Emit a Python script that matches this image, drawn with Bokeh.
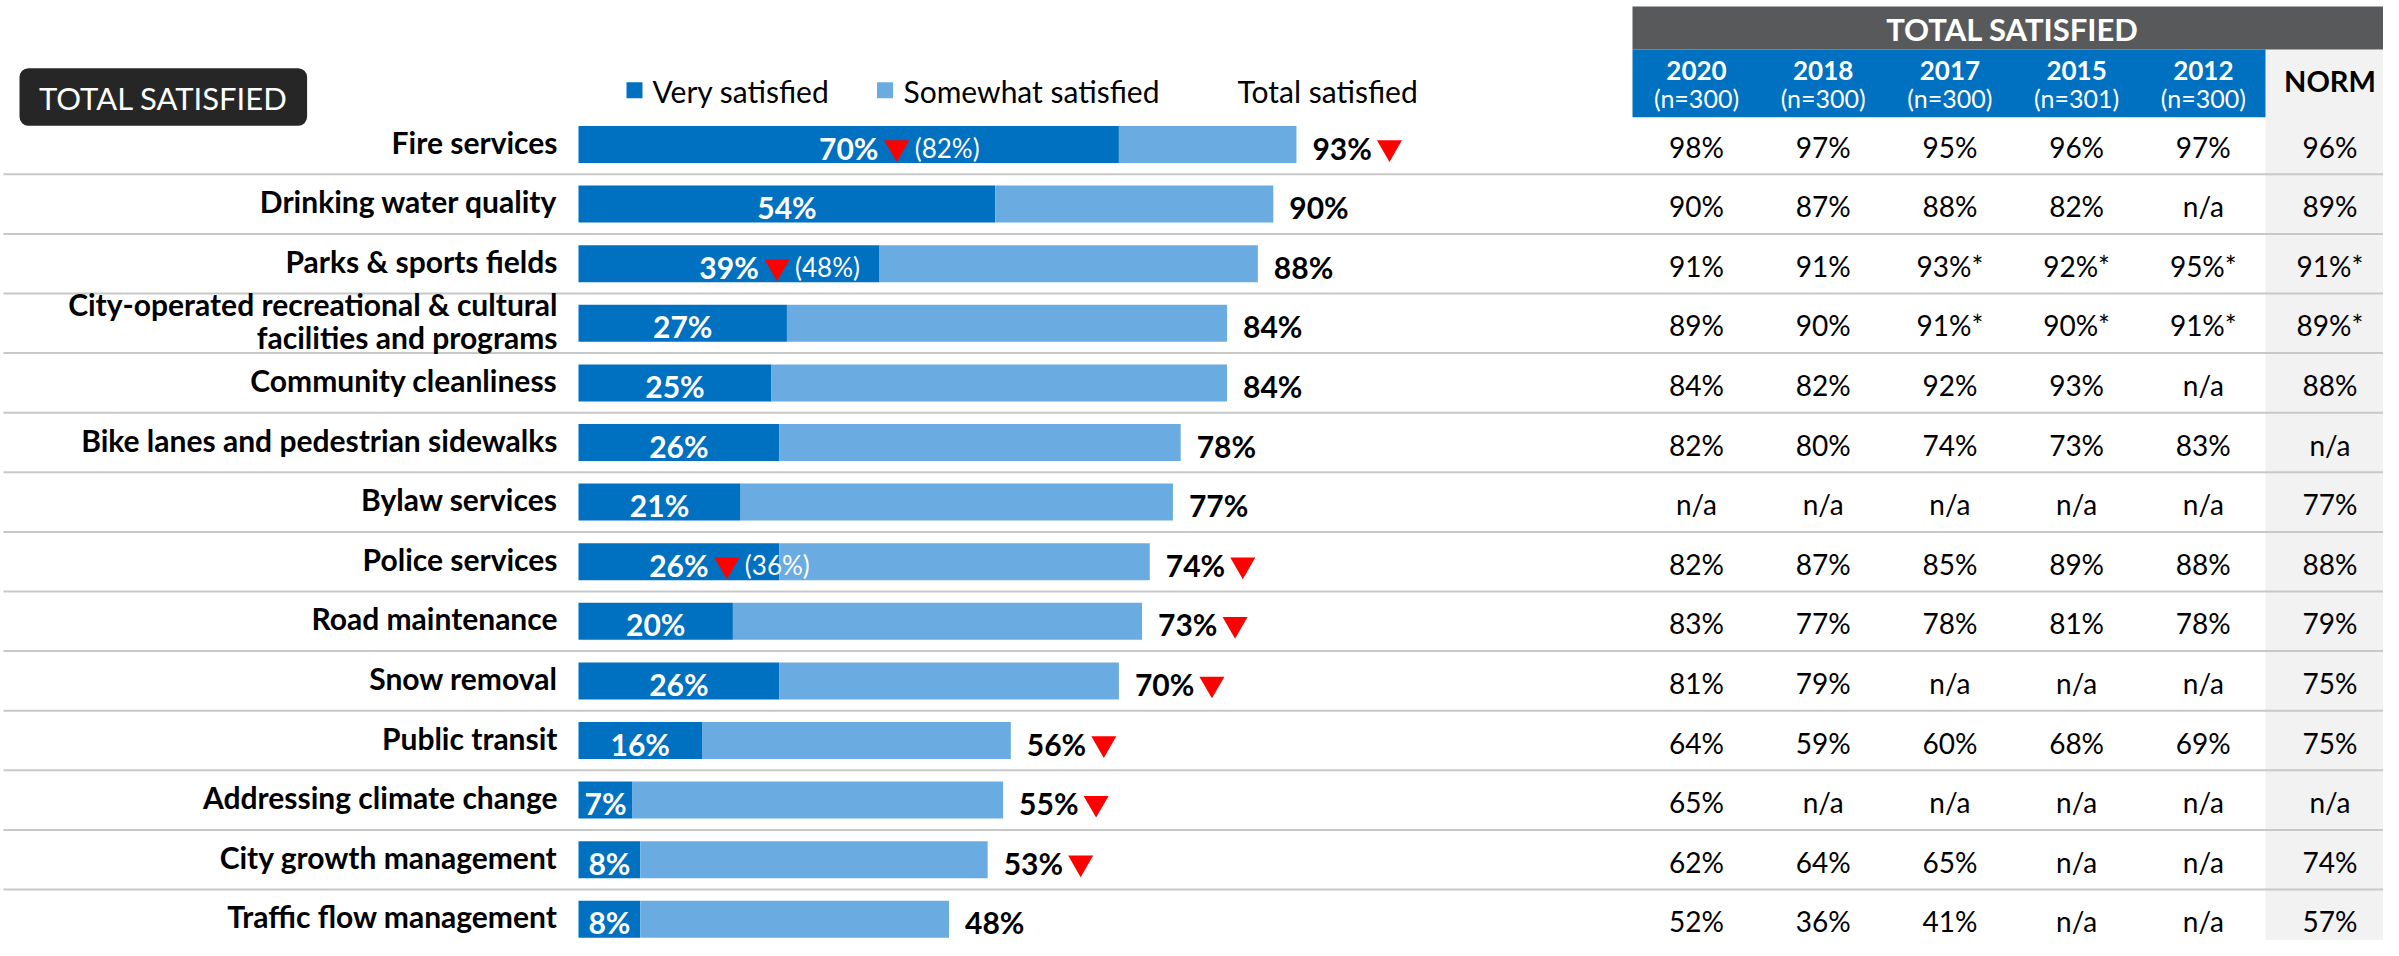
from bokeh.plotting import figure
from bokeh.models import Range1d, ColumnDataSource
from bokeh.core.properties import value
from bokeh.embed import file_html
from bokeh.resources import INLINE

# ---------------- data ----------------
categories = [
    "Fire services",
    "Drinking water quality",
    "Parks & sports fields",
    "City-operated recreational & cultural\nfacilities and programs",
    "Community cleanliness",
    "Bike lanes and pedestrian sidewalks",
    "Bylaw services",
    "Police services",
    "Road maintenance",
    "Snow removal",
    "Public transit",
    "Addressing climate change",
    "City growth management",
    "Traffic flow management",
]
very_satisfied = [70, 54, 39, 27, 25, 26, 21, 26, 20, 26, 16, 7, 8, 8]
total_satisfied = [93, 90, 88, 84, 84, 78, 77, 74, 73, 70, 56, 55, 53, 48]
total_down = [True, False, False, False, False, False, False, True, True, True, True, True, True, False]
very_previous = [82, None, 48, None, None, None, None, 36, None, None, None, None, None, None]

years = ["2020", "2018", "2017", "2015", "2012"]
sample_sizes = ["(n=300)", "(n=300)", "(n=300)", "(n=301)", "(n=300)"]
col_2020 = ["98%", "90%", "91%", "89%", "84%", "82%", "n/a", "82%", "83%", "81%", "64%", "65%", "62%", "52%"]
col_2018 = ["97%", "87%", "91%", "90%", "82%", "80%", "n/a", "87%", "77%", "79%", "59%", "n/a", "64%", "36%"]
col_2017 = ["95%", "88%", "93%*", "91%*", "92%", "74%", "n/a", "85%", "78%", "n/a", "60%", "n/a", "65%", "41%"]
col_2015 = ["96%", "82%", "92%*", "90%*", "93%", "73%", "n/a", "89%", "81%", "n/a", "68%", "n/a", "n/a", "n/a"]
col_2012 = ["97%", "n/a", "95%*", "91%*", "n/a", "83%", "n/a", "88%", "78%", "n/a", "69%", "n/a", "n/a", "n/a"]
col_norm = ["96%", "89%", "91%*", "89%*", "88%", "n/a", "77%", "88%", "79%", "75%", "75%", "n/a", "74%", "57%"]

# ---------------- layout helpers ----------------
W, H = 2383, 940
OX, PPX = 578.0, 7.72     # px of 0 %, px per %
OY, PPY = 144.0, 59.6     # px of first row centre, px per row


def X(px):
    return (px - OX) / PPX


def Y(py):
    return (py - OY) / PPY


FONT = "Lato"
DARK = "#0070C0"
LIGHT = "#6AACE2"
RED = "#FF0000"

n = len(categories)
idx = list(range(n))
somewhat = [t - v for t, v in zip(total_satisfied, very_satisfied)]

p = figure(width=W, height=H, x_range=Range1d(X(0), X(W)), y_range=Range1d(Y(H), Y(0)),
           output_backend="svg", toolbar_location=None, min_border=0,
           x_axis_location=None, y_axis_location=None)
p.grid.visible = False
p.outline_line_color = None
p.background_fill_color = "white"
p.border_fill_color = "white"

# ---------------- table backgrounds ----------------
p.quad(left=[X(2265)], right=[X(2392)], top=[Y(49)], bottom=[Y(970)], color="#F2F2F2", line_color=None)
p.quad(left=[X(1632)], right=[X(2392)], top=[Y(6)], bottom=[Y(49)], color="#58595B", line_color=None)
p.quad(left=[X(1632)], right=[X(2265)], top=[Y(49)], bottom=[Y(116.7)], color=DARK, line_color=None)

# separators
p.segment(x0=[X(3)] * (n - 1), x1=[X(2392)] * (n - 1), y0=[i + 0.5 for i in range(n - 1)],
          y1=[i + 0.5 for i in range(n - 1)], line_color="#C8C8C8", line_width=2)

# ---------------- bars ----------------
src = ColumnDataSource(dict(y=idx, very=very_satisfied, total=total_satisfied, somewhat=somewhat,
                            mid=[v / 2 for v in very_satisfied],
                            vlab=[f"{v}%" for v in very_satisfied],
                            tlab=[f"{t}%" for t in total_satisfied],
                            tx=[t + 16 / PPX for t in total_satisfied],
                            ly=[i + 3 / PPY for i in idx]))
bh = 37 / PPY
p.hbar(y="y", left=0, right="very", height=bh, source=src, color=DARK, line_color=None)
p.hbar(y="y", left="very", right="total", height=bh, source=src, color=LIGHT, line_color=None)

# labels inside / after bars
p.text(x="mid", y="ly", text="vlab", source=src, text_align="center", text_baseline="middle",
       text_color="white", text_font=value(FONT), text_font_style="bold", text_font_size="30px")
p.text(x="tx", y="ly", text="tlab", source=src, text_align="left", text_baseline="middle",
       text_color="black", text_font=value(FONT), text_font_style="bold", text_font_size="30px")

# decline markers for total
dx = [t + 93 / PPX for t, d in zip(total_satisfied, total_down) if d]
dy = [i + 3 / PPY for i, d in zip(idx, total_down) if d]
p.scatter(x=dx, y=dy, marker="inverted_triangle", size=25, color=RED, line_color=None)

# decline markers for very satisfied + previous values
px_ = [v / 2 + 48 / PPX for v, pv in zip(very_satisfied, very_previous) if pv is not None]
py_ = [i + 3 / PPY for i, pv in zip(idx, very_previous) if pv is not None]
p.scatter(x=px_, y=py_, marker="inverted_triangle", size=25, color=RED, line_color=None)
p.text(x=[v / 2 + 66 / PPX for v, pv in zip(very_satisfied, very_previous) if pv is not None],
       y=[i + 3 / PPY for i, pv in zip(idx, very_previous) if pv is not None],
       text=[f"({pv}%)" for pv in very_previous if pv is not None],
       text_align="left", text_baseline="middle", text_color="white",
       text_font=value(FONT), text_font_size="26px")

# category labels
p.text(x=[X(557)] * n, y=[i - 3 / PPY for i in idx], text=categories, text_align="right",
       text_baseline="middle", text_color="black", text_font=value(FONT), text_font_style="bold",
       text_font_size="30px", text_line_height=0.92)

# ---------------- title box & legend ----------------
tb = p.quad(left=[X(19)], right=[X(306.6)], top=[Y(67.7)], bottom=[Y(125.3)], color="#262626", line_color=None)
if "border_radius" in tb.glyph.properties():
    tb.glyph.border_radius = 9
p.text(x=[X(162.8)], y=[Y(97)], text=["TOTAL SATISFIED"], text_align="center", text_baseline="middle",
       text_color="white", text_font=value(FONT), text_font_size="31px")

p.scatter(x=[X(634), X(884.5)], y=[Y(89.7), Y(89.7)], marker="square", size=16,
          color=[DARK, LIGHT], line_color=None)
p.text(x=[X(652), X(903), X(1237)], y=[Y(90)] * 3,
       text=["Very satisfied", "Somewhat satisfied", "Total satisfied"],
       text_align="left", text_baseline="middle", text_color="black",
       text_font=value(FONT), text_font_size="30px")

# ---------------- table ----------------
col_x = [X(1696 + k * 126.7) for k in range(6)]
p.text(x=[X(2012)], y=[Y(28)], text=["TOTAL SATISFIED"], text_align="center", text_baseline="middle",
       text_color="white", text_font=value(FONT), text_font_style="bold", text_font_size="31px")
p.text(x=col_x[:5], y=[Y(70)] * 5, text=years, text_align="center", text_baseline="middle",
       text_color="white", text_font=value(FONT), text_font_style="bold", text_font_size="26px")
p.text(x=col_x[:5], y=[Y(97)] * 5, text=sample_sizes, text_align="center", text_baseline="middle",
       text_color="white", text_font=value(FONT), text_font_size="25px")
p.text(x=[col_x[5]], y=[Y(80)], text=["NORM"], text_align="center", text_baseline="middle",
       text_color="black", text_font=value(FONT), text_font_style="bold", text_font_size="29px")

for k, col in enumerate([col_2020, col_2018, col_2017, col_2015, col_2012, col_norm]):
    p.text(x=[col_x[k]] * n, y=[i + 2 / PPY for i in idx], text=col, text_align="center",
           text_baseline="middle", text_color="black", text_font=value(FONT), text_font_size="28px")

open("out.html", "w").write(file_html(p, INLINE))
